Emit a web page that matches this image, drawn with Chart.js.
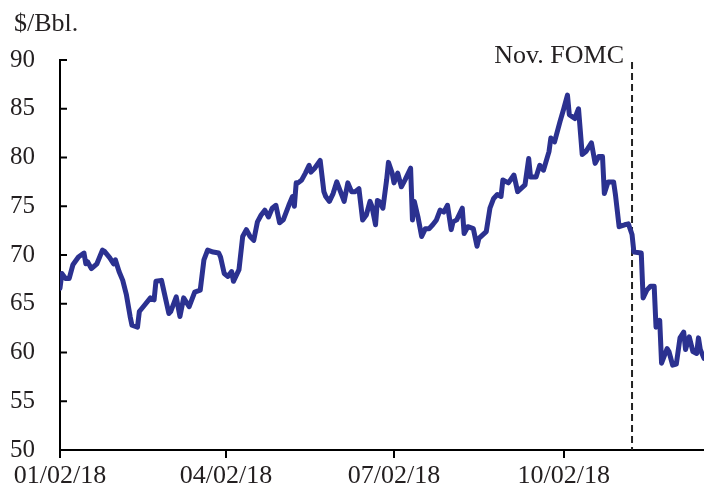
<!DOCTYPE html>
<html>
<head>
<meta charset="utf-8">
<script src="https://cdn.jsdelivr.net/npm/chart.js@4.4.1/dist/chart.umd.min.js"></script>
<style>
  html, body { margin: 0; padding: 0; background: #fff; }
</style>
</head>
<body>
<canvas id="myChart" width="704" height="494"></canvas>
<script>
// days counted from 01/02/18, Brent price in $/Bbl.
const days = [
  0, 1, 3, 5, 7, 10, 13, 14, 15, 17, 20, 23, 24, 27, 29, 30, 32, 34, 36, 38,
  39, 42, 43, 46, 49, 51, 52, 55, 59, 60, 63, 65, 67, 70, 73, 76, 78, 80, 83, 86,
  87, 89, 91, 93, 94, 97, 99, 101, 103, 105, 107, 109, 111, 113, 115, 117, 119, 121, 124, 126,
  127, 128, 129, 131, 133, 135, 136, 138, 141, 143, 144, 146, 148, 150, 152, 154, 156, 158, 160, 162,
  164, 166, 168, 169, 171, 172, 173, 175, 177, 178, 180, 181, 183, 185, 187, 190, 191, 192, 194, 196,
  198, 200, 202, 204, 206, 208, 210, 212, 213, 215, 218, 219, 221, 224, 226, 227, 231, 233, 235, 237,
  239, 240, 243, 246, 248, 252, 254, 255, 258, 260, 262, 265, 266, 268, 271, 273, 275, 276, 279, 281,
  283, 285, 288, 290, 292, 294, 295, 297, 300, 301, 303, 306, 308, 310, 311, 315, 316, 318, 320, 322,
  323, 325, 326, 329, 330, 332, 334, 336, 338, 339, 341, 343, 345, 346, 347, 349
];
const prices = [
  66.6, 68.1, 67.6, 67.6, 69.0, 69.8, 70.2, 69.1, 69.3, 68.6, 69.1, 70.5, 70.4, 69.7, 69.1, 69.5, 68.3, 67.4, 65.9, 63.7,
  62.8, 62.6, 64.2, 64.9, 65.6, 65.4, 67.3, 67.4, 64.0, 64.2, 65.7, 63.7, 65.6, 64.7, 66.2, 66.4, 69.5, 70.5, 70.3, 70.2,
  69.8, 68.1, 67.8, 68.3, 67.3, 68.5, 71.9, 72.6, 71.9, 71.5, 73.4, 74.1, 74.6, 73.9, 74.8, 75.1, 73.3, 73.6, 75.1, 76.0,
  75.0, 77.4, 77.4, 77.7, 78.4, 79.2, 78.5, 78.9, 79.7, 76.5, 76.0, 75.5, 76.3, 77.5, 76.5, 75.5, 77.4, 76.5, 76.5, 76.8,
  73.6, 74.1, 75.5, 75.0, 73.1, 75.6, 75.5, 74.8, 77.7, 79.5, 78.4, 77.4, 78.4, 77.0, 77.7, 78.9, 73.6, 75.5, 73.9, 71.9,
  72.7, 72.7, 73.1, 73.6, 74.6, 74.4, 75.1, 72.6, 73.4, 73.6, 74.8, 72.2, 72.9, 72.7, 70.9, 71.7, 72.4, 74.8, 75.8, 76.2,
  76.0, 77.7, 77.4, 78.2, 76.5, 77.2, 79.9, 78.0, 78.0, 79.2, 78.7, 80.6, 82.0, 81.6, 83.7, 85.0, 86.4, 84.4, 84.0, 85.0,
  80.3, 80.6, 81.5, 79.4, 80.1, 80.1, 76.3, 77.5, 77.5, 76.2, 72.9, 73.1, 73.2, 72.1, 70.3, 70.2, 65.6, 66.4, 66.8, 66.8,
  62.6, 63.3, 58.9, 60.4, 60.1, 58.7, 58.8, 61.5, 62.1, 60.3, 61.6, 60.1, 59.9, 61.5, 60.3, 59.4
];

const tickDays = [0, 90, 181, 273];
const tickLabels = ['01/02/18', '04/02/18', '07/02/18', '10/02/18'];
const lastDay = 349;
const fomcDay = 310;
const fomcLabel = 'Nov. FOMC';
const unitLabel = '$/Bbl.';

const textColor = '#231f20';
const serif = '"Liberation Serif", "Times New Roman", serif';

// dashed FOMC line under the series, inward y ticks and labels on top
const annotations = {
  id: 'annotations',
  beforeDatasetsDraw(chart) {
    const { ctx, chartArea, scales: { x } } = chart;
    const fx = x.getPixelForValue(fomcDay);
    ctx.save();
    ctx.strokeStyle = '#222';
    ctx.lineWidth = 2;
    ctx.setLineDash([7, 4]);
    ctx.beginPath();
    ctx.moveTo(fx, chartArea.top + 2);
    ctx.lineTo(fx, chartArea.bottom);
    ctx.stroke();
    ctx.restore();
  },
  afterDraw(chart) {
    const { ctx, chartArea, scales: { x, y } } = chart;
    ctx.save();
    ctx.strokeStyle = '#000';
    ctx.lineWidth = 2;
    y.ticks.forEach(t => {
      const py = y.getPixelForValue(t.value);
      ctx.beginPath();
      ctx.moveTo(chartArea.left, py);
      ctx.lineTo(chartArea.left + 7, py);
      ctx.stroke();
    });
    ctx.fillStyle = textColor;
    ctx.font = '26px ' + serif;
    ctx.textBaseline = 'alphabetic';
    ctx.textAlign = 'right';
    ctx.fillText(fomcLabel, x.getPixelForValue(fomcDay) - 8, 63);
    ctx.textAlign = 'left';
    ctx.fillText(unitLabel, 14, 31);
    ctx.restore();
  }
};

const ctx = document.getElementById('myChart').getContext('2d');
new Chart(ctx, {
  type: 'line',
  data: {
    datasets: [{
      data: days.map((d, i) => ({ x: d, y: prices[i] })),
      borderColor: '#2b3190',
      borderWidth: 5,
      borderJoinStyle: 'round',
      borderCapStyle: 'round',
      pointRadius: 0,
      tension: 0,
      fill: false
    }]
  },
  options: {
    responsive: false,
    animation: false,
    devicePixelRatio: 1,
    layout: { padding: { top: 60, left: 0, right: 0, bottom: 0 } },
    plugins: { legend: { display: false }, tooltip: { enabled: false } },
    scales: {
      x: {
        type: 'linear',
        min: 0,
        max: lastDay,
        afterBuildTicks: s => { s.ticks = tickDays.map(v => ({ value: v })); },
        afterFit: s => { s.height = 44; },
        ticks: {
          callback: v => tickLabels[tickDays.indexOf(v)],
          font: { family: serif, size: 26 },
          color: textColor,
          padding: 3,
          maxRotation: 0,
          autoSkip: false
        },
        grid: { drawOnChartArea: false, tickLength: 8, color: '#000', lineWidth: 2 },
        border: { color: '#000', width: 2 }
      },
      y: {
        min: 50,
        max: 90,
        afterFit: s => { s.width = 60; },
        ticks: {
          stepSize: 5,
          font: { family: serif, size: 25 },
          color: textColor,
          padding: 25
        },
        grid: { drawOnChartArea: false, drawTicks: false },
        border: { color: '#000', width: 2 }
      }
    }
  },
  plugins: [annotations]
});
</script>
</body>
</html>
